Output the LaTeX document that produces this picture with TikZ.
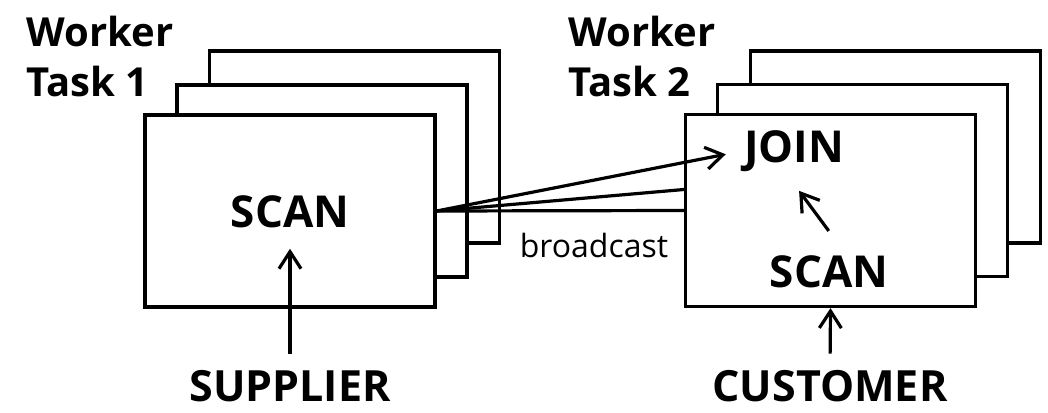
\documentclass[tikz,border=0pt]{standalone}
\usepackage{fontspec}
\setmainfont{Open Sans}
\usetikzlibrary{arrows.meta}

\begin{document}
\begin{tikzpicture}[x=1pt, y=-1pt, line width=3.2pt,
    >={Straight Barb[length=17pt,width=22pt]},
    frame/.style={draw, fill=white, minimum width=290pt, minimum height=192pt, inner sep=0pt},
    op/.style={font=\fontsize{44}{44}\selectfont\bfseries, inner sep=0pt},
    relname/.style={font=\fontsize{43}{43}\selectfont\bfseries, inner sep=0pt},
    tasklabel/.style={font=\fontsize{40}{50}\selectfont\bfseries, align=left, inner sep=0pt, anchor=north west}]
    \useasboundingbox (0,0) rectangle (1048,412);

    % worker task 1
    \node[frame] (back1) at (354.5,147) {};
    \node[frame] (mid1) at (322,181) {};
    \node[frame] (front1) at (290,211) {};
    \node[tasklabel] (task1) at (25,15) {Worker\\Task 1};
    \node[op] (scan1) at (290,212) {SCAN};
    \node[relname] (supplier) at (290,386) {SUPPLIER};
    \draw[->, shorten <=15pt, shorten >=19pt] (supplier.north) -- (scan1.south);

    % worker task 2
    \node[frame] (back2) at (895.5,147) {};
    \node[frame] (mid2) at (862.5,180.5) {};
    \node[frame] (front2) at (830.5,210.5) {};
    \node[tasklabel] (task2) at (567,15) {Worker\\Task 2};
    \node[op] (join2) at (794,151) {JOIN};
    \node[op] (scan2) at (829,272) {SCAN};
    \node[relname] (customer) at (830,386) {CUSTOMER};
    \draw[->, shorten <=15pt] (customer.north) -- (front2.south);
    \draw[->, shorten <=29pt, shorten >=22pt] ([xshift=17pt]scan2.north) -- ([xshift=-8pt]join2.south);

    % broadcast
    \draw[->, shorten >=17pt] (front1.east) -- (join2.west);
    \draw (front1.east) -- ([yshift=21pt]front2.west);
    \draw (front1.east) -- (front2.west);
    \node[font=\fontsize{32}{32}\selectfont, inner sep=0pt] (bcast) at (594,245) {broadcast};
\end{tikzpicture}
\end{document}
